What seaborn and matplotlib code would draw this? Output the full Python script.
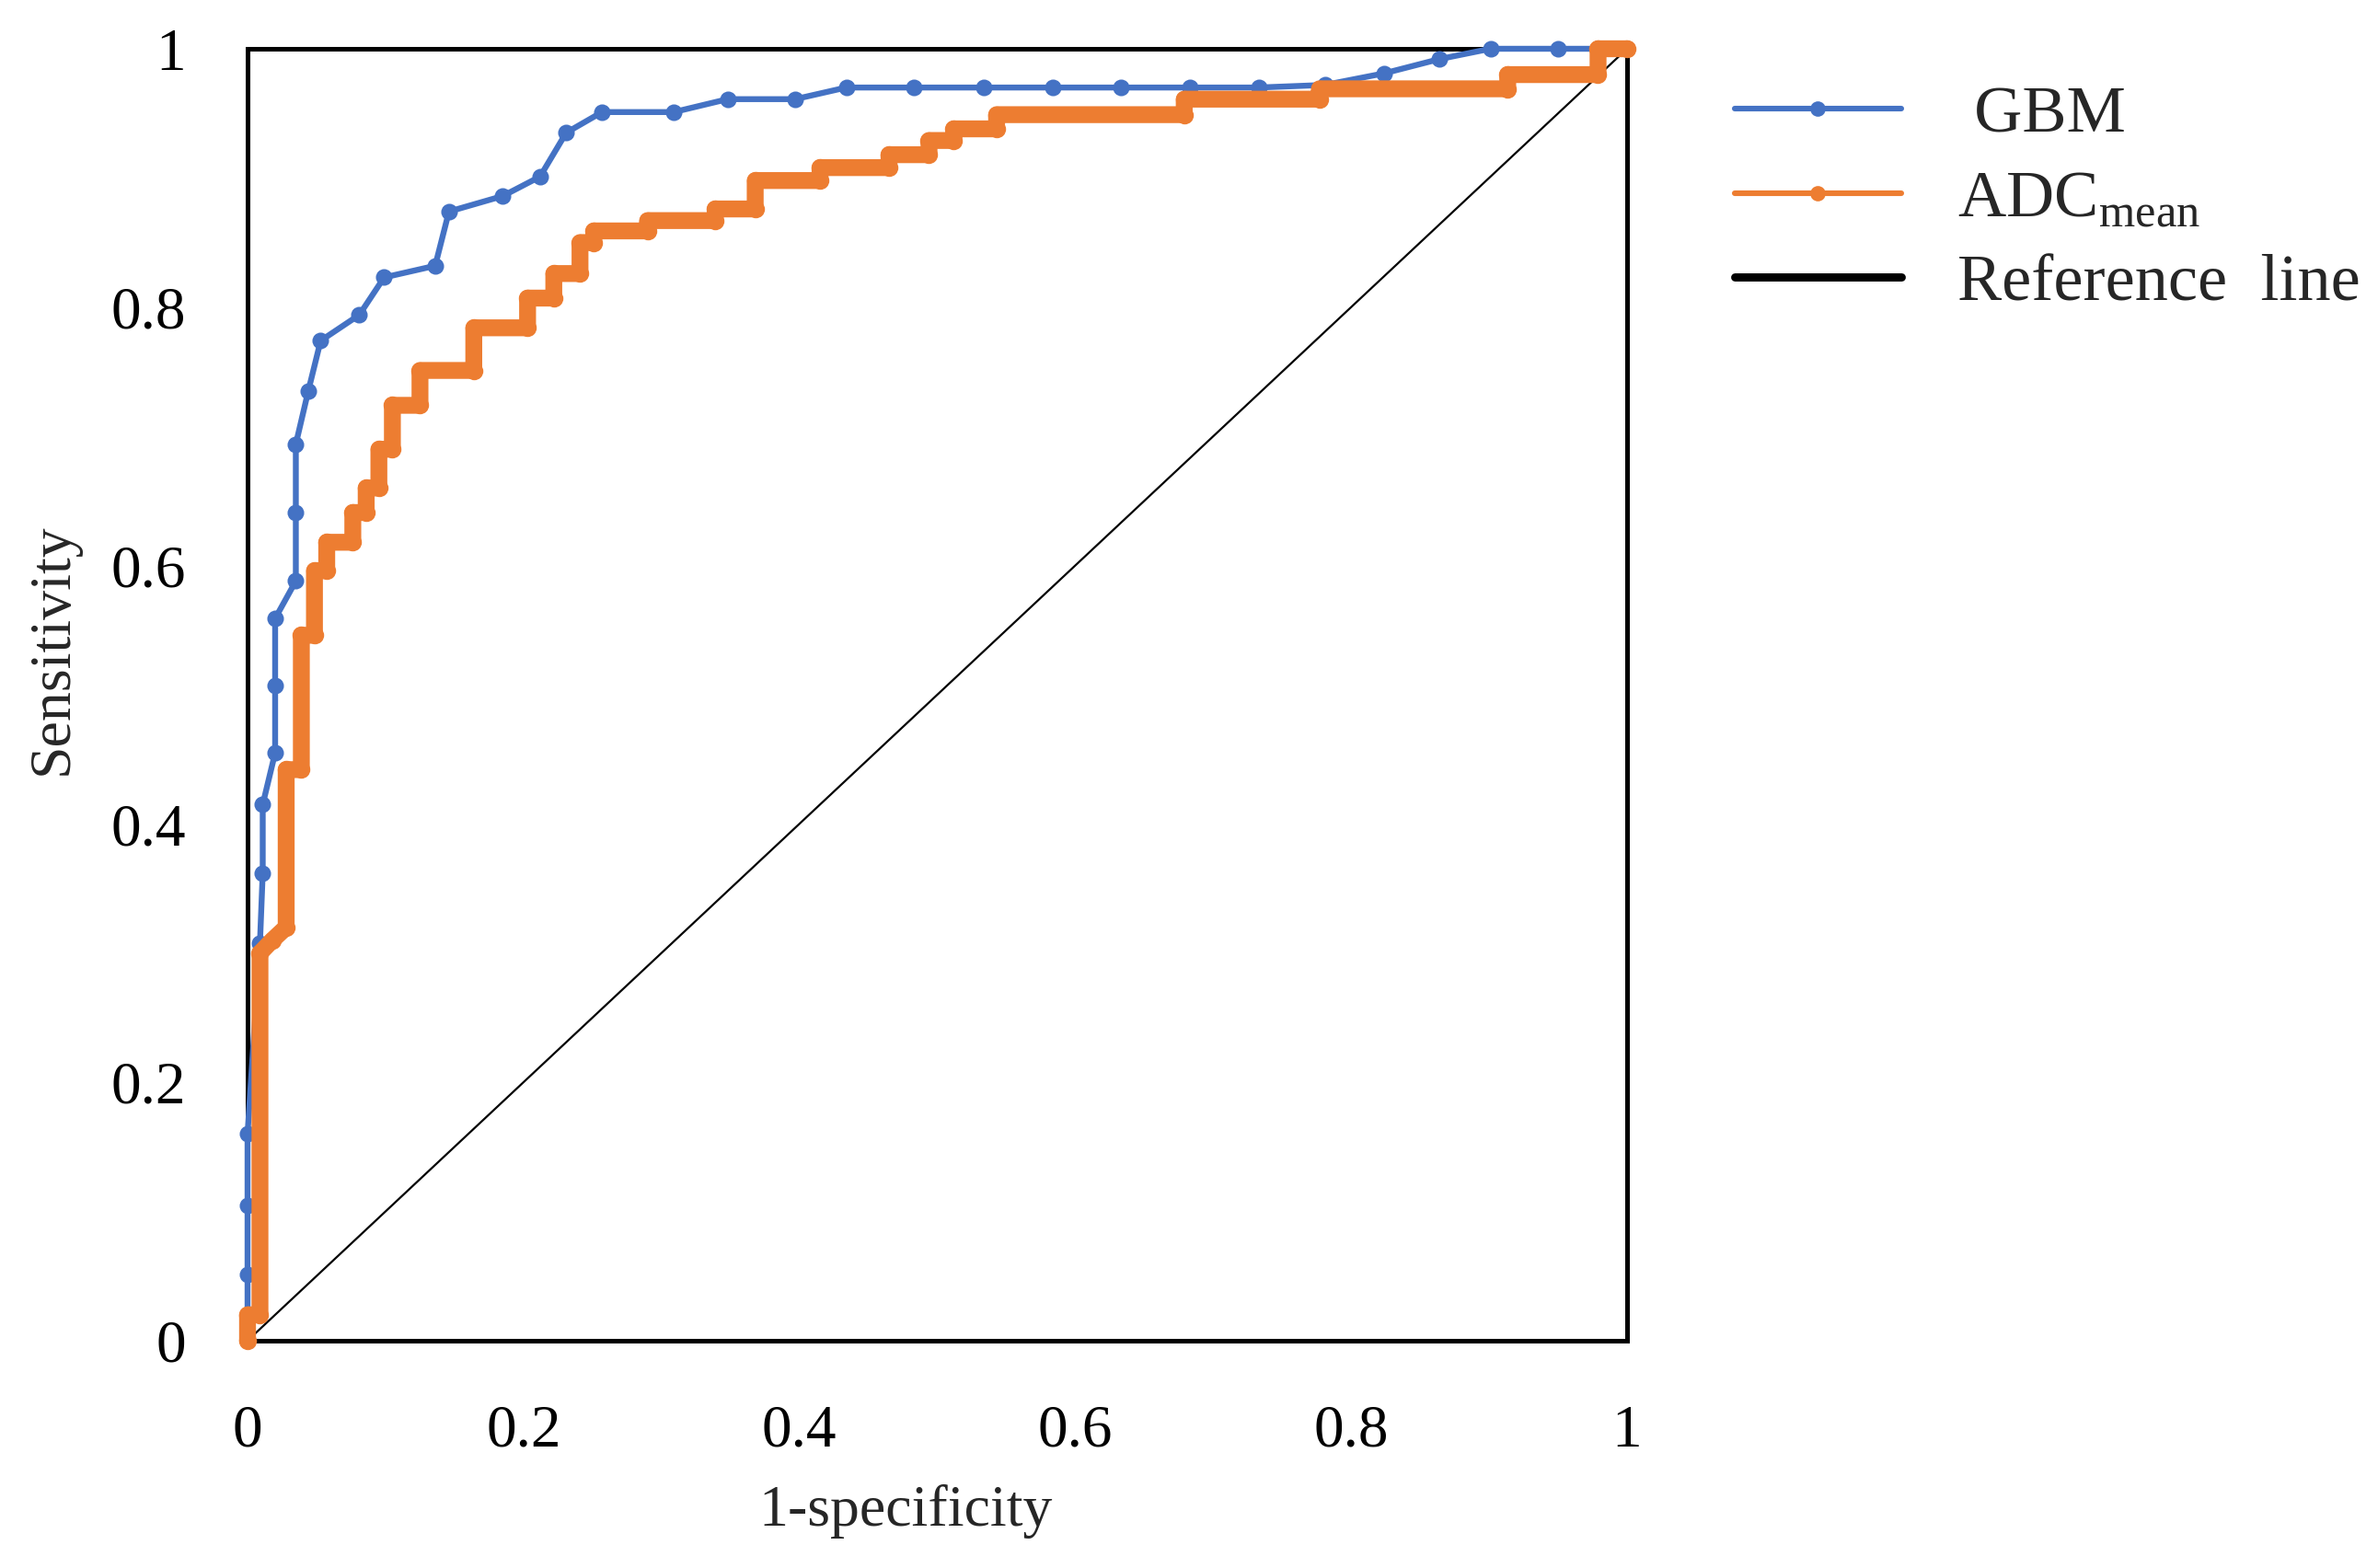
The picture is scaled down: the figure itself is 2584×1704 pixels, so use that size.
import matplotlib
matplotlib.use("Agg")
import matplotlib.pyplot as plt
from matplotlib.lines import Line2D
import seaborn as sns
import pandas as pd

# GBM ROC points (1-specificity, sensitivity)
gbm_fpr = [0, 0, 0, 0, 0.009, 0.011, 0.011, 0.020, 0.020, 0.020, 0.035, 0.035, 0.035,
           0.044, 0.053, 0.081, 0.099, 0.136, 0.146, 0.185, 0.212, 0.231, 0.257, 0.309,
           0.348, 0.397, 0.434, 0.483, 0.534, 0.584, 0.633, 0.683, 0.733, 0.781, 0.824,
           0.864, 0.901, 0.950, 1.0]
gbm_tpr = [0, 0.051, 0.105, 0.160, 0.308, 0.362, 0.415, 0.455, 0.507, 0.559, 0.588, 0.641,
           0.694, 0.735, 0.774, 0.794, 0.823, 0.832, 0.874, 0.886, 0.901, 0.935, 0.951, 0.951,
           0.961, 0.961, 0.970, 0.970, 0.970, 0.970, 0.970, 0.970, 0.970, 0.972, 0.981,
           0.992, 1.0, 1.0, 1.0]

# ADCmean ROC staircase corners
adc_fpr = [0.0, 0.0, 0.009, 0.009, 0.018, 0.028, 0.028, 0.039, 0.039, 0.0485, 0.0485,
           0.0574, 0.0574, 0.0763, 0.0763, 0.086, 0.086, 0.0952, 0.0952, 0.105, 0.105,
           0.125, 0.125, 0.164, 0.164, 0.203, 0.203, 0.222, 0.222, 0.241, 0.241, 0.251,
           0.251, 0.290, 0.290, 0.339, 0.339, 0.368, 0.368, 0.415, 0.415, 0.465, 0.465,
           0.494, 0.494, 0.512, 0.512, 0.543, 0.543, 0.679, 0.679, 0.777, 0.777, 0.9135,
           0.9135, 0.979, 0.979, 1.0]
adc_tpr = [0.0, 0.02, 0.02, 0.30, 0.31, 0.32, 0.442, 0.442, 0.546, 0.546, 0.596,
           0.596, 0.618, 0.618, 0.641, 0.641, 0.660, 0.660, 0.690, 0.690, 0.724,
           0.724, 0.751, 0.751, 0.784, 0.784, 0.807, 0.807, 0.826, 0.826, 0.850, 0.850,
           0.859, 0.859, 0.867, 0.867, 0.876, 0.876, 0.898, 0.898, 0.908, 0.908, 0.918,
           0.918, 0.929, 0.929, 0.938, 0.938, 0.949, 0.949, 0.961, 0.961, 0.969, 0.969,
           0.980, 0.980, 1.0, 1.0]

ref_x = [0, 1]
ref_y = [0, 1]

tick_vals = [0, 0.2, 0.4, 0.6, 0.8, 1]
tick_labels = ["0", "0.2", "0.4", "0.6", "0.8", "1"]

BLUE = "#4472C4"
ORANGE = "#ED7D31"

sns.set_style("white")
plt.rcParams["font.family"] = ["Liberation Serif", "DejaVu Serif"]
plt.rcParams["mathtext.fontset"] = "custom"
plt.rcParams["mathtext.rm"] = "Liberation Serif"

gbm_df = pd.DataFrame({"fpr": gbm_fpr, "tpr": gbm_tpr})
adc_df = pd.DataFrame({"fpr": adc_fpr, "tpr": adc_tpr})
ref_df = pd.DataFrame({"fpr": ref_x, "tpr": ref_y})

fig = plt.figure(figsize=(12.92, 8.52), dpi=200)
ax = fig.add_axes([0.1041, 0.1450, 0.5801, 0.8239])

sns.lineplot(data=ref_df, x="fpr", y="tpr", ax=ax, color="black", linewidth=0.8,
             sort=False, estimator=None, zorder=3)
sns.lineplot(data=gbm_df, x="fpr", y="tpr", ax=ax, color=BLUE, linewidth=2.3,
             marker="o", markersize=6.5, markeredgewidth=0, sort=False,
             estimator=None, clip_on=False, zorder=4)
sns.lineplot(data=adc_df, x="fpr", y="tpr", ax=ax, color=ORANGE, linewidth=6.6,
             marker="o", markersize=7, markeredgewidth=0, sort=False,
             estimator=None, clip_on=False, zorder=5,
             solid_joinstyle="round", solid_capstyle="round")

ax.set_xlim(0, 1)
ax.set_ylim(0, 1)
ax.set_xticks(tick_vals)
ax.set_xticklabels(tick_labels)
ax.set_yticks(tick_vals)
ax.set_yticklabels(tick_labels)
ax.tick_params(length=0, labelsize=23.5, colors="black")
ax.tick_params(axis="x", pad=25)
ax.tick_params(axis="y", pad=24)

for sp in ax.spines.values():
    sp.set_visible(True)
    sp.set_color("black")
    sp.set_linewidth(1.8)

ax.set_xlabel("1-specificity", fontsize=23)
ax.set_ylabel("Sensitivity", fontsize=23)
ax.xaxis.set_label_coords(0.477, -0.1325)
ax.xaxis.label.set_va("center")
ax.yaxis.set_label_coords(-0.1408, 0.5356)
ax.yaxis.label.set_va("center")

handles = [
    Line2D([0], [0], color=BLUE, lw=2.2, marker="o", markersize=6, markeredgewidth=0),
    Line2D([0], [0], color=ORANGE, lw=2.2, marker="o", markersize=6, markeredgewidth=0),
    Line2D([0], [0], color="black", lw=3.2),
]
labels = [" GBM", r"ADC$_{\mathrm{mean}}$", "Reference  line"]
ax.legend(handles, labels, loc="upper left", frameon=False, fontsize=26,
          bbox_to_anchor=(1885 / 2584, 1 - 93 / 1704), bbox_transform=fig.transFigure,
          borderaxespad=0, borderpad=0, handlelength=2.5, handletextpad=0.85,
          labelspacing=0.36)

fig.savefig("out.png", dpi=200, facecolor="white")
